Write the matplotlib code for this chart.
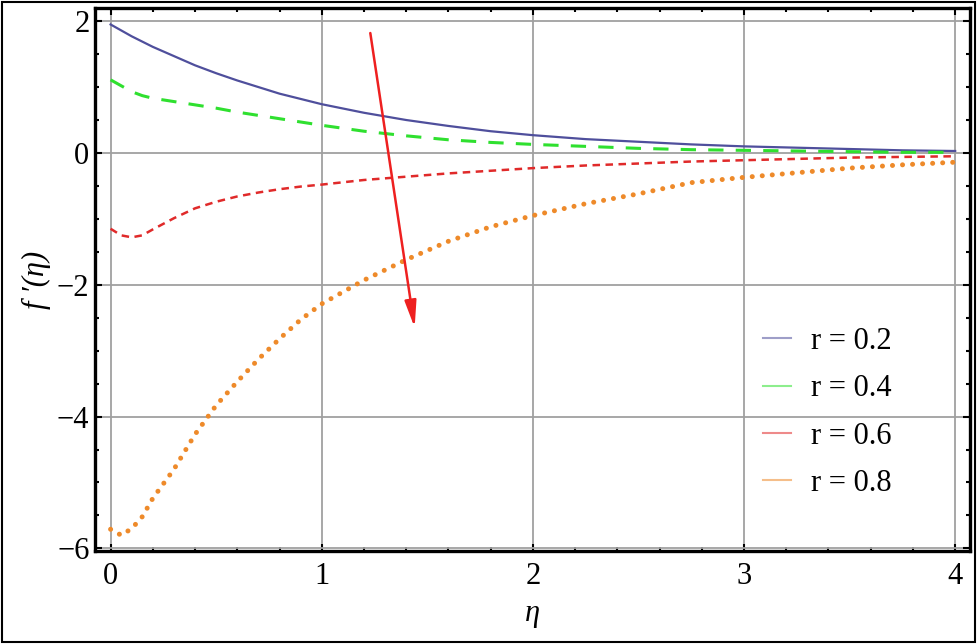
import matplotlib
matplotlib.use('Agg')
import matplotlib.pyplot as plt
from matplotlib.lines import Line2D
from matplotlib.patches import Rectangle
from matplotlib.ticker import MultipleLocator

# valeurs
eta = [0, 0.05, 0.1, 0.15, 0.2, 0.3, 0.4, 0.5, 0.6, 0.7, 0.8, 0.9, 1.0,
       1.2, 1.4, 1.6, 1.8, 2.0, 2.25, 2.5, 2.75, 3.0, 3.25, 3.5, 3.75, 4.0]
f_r02 = [1.95, 1.86, 1.77, 1.69, 1.61, 1.47, 1.33, 1.21, 1.10, 1.00, 0.90, 0.82, 0.74,
         0.61, 0.50, 0.41, 0.33, 0.27, 0.21, 0.17, 0.13, 0.10, 0.08, 0.06, 0.04, 0.03]
f_r04 = [1.11, 1.02, 0.93, 0.87, 0.83, 0.78, 0.73, 0.68, 0.62, 0.57, 0.52, 0.47, 0.42,
         0.33, 0.26, 0.20, 0.16, 0.13, 0.10, 0.07, 0.05, 0.04, 0.03, 0.02, 0.01, 0.01]
f_r06 = [-1.15, -1.25, -1.28, -1.25, -1.16, -0.99, -0.84, -0.74, -0.66, -0.60, -0.55, -0.51, -0.48,
         -0.41, -0.36, -0.31, -0.27, -0.23, -0.19, -0.16, -0.13, -0.11, -0.09, -0.07, -0.06, -0.05]
f_r08 = [-5.71, -5.80, -5.70, -5.52, -5.24, -4.80, -4.27, -3.83, -3.47, -3.13, -2.82, -2.53, -2.29,
         -1.93, -1.62, -1.34, -1.12, -0.95, -0.77, -0.62, -0.45, -0.37, -0.30, -0.23, -0.18, -0.14]
labels = ['r = 0.2', 'r = 0.4', 'r = 0.6', 'r = 0.8']
couleurs = ['#4f4f9c', '#2fe02f', '#e02a2a', '#ee8a2a']

plt.rcParams['font.family'] = ['Liberation Serif', 'DejaVu Serif']

fig = plt.figure(figsize=(9.77, 6.44), dpi=100)
ax = fig.add_axes([0.0972, 0.1444, 0.8956, 0.8432])

ax.plot(eta, f_r02, color=couleurs[0], lw=1.6)
ax.plot(eta, f_r04, color=couleurs[1], lw=2.2, dashes=(5, 4))
ax.plot(eta, f_r06, color=couleurs[2], lw=1.8, dashes=(3, 2.2))
ax.plot(eta, f_r08, color=couleurs[3], lw=3.6, dashes=(0.01, 2.0),
        dash_capstyle='round')

# fleche
ax.annotate('', xy=(1.44, -2.65), xytext=(1.23, 1.82),
            arrowprops=dict(arrowstyle='-|>,head_length=1.6,head_width=0.35',
                            color='#ee2020', lw=1.8, shrinkA=0, shrinkB=0))

ax.set_xlim(-0.074, 4.07)
ax.set_ylim(-6.04, 2.2)
ax.xaxis.set_major_locator(MultipleLocator(1))
ax.xaxis.set_minor_locator(MultipleLocator(0.2))
ax.yaxis.set_major_locator(MultipleLocator(2))
ax.yaxis.set_minor_locator(MultipleLocator(0.5))
ax.tick_params(which='both', direction='in', top=True, right=True, width=1.5)
ax.tick_params(which='major', length=5, labelsize=22)
ax.tick_params(which='minor', length=3)
ax.tick_params(axis='x', pad=8)
ax.tick_params(axis='y', pad=4)
for s in ax.spines.values():
    s.set_linewidth(2.4)
ax.grid(True, which='major', color='#a0a0a0', lw=1.3)

ax.set_xlabel('η', fontsize=22, fontstyle='italic', labelpad=6)
ax.set_ylabel('f ′(η)', fontsize=22, fontstyle='italic', labelpad=4)

poignees = [Line2D([], [], color=c, lw=1.5, alpha=0.55) for c in couleurs]
ax.legend(poignees, labels, loc='center left', bbox_to_anchor=(0.732, 0.255),
          frameon=False, fontsize=22, handlelength=0.92, labelspacing=0.6,
          handletextpad=0.65)

fig.patches.append(Rectangle((0.002, 0.003), 0.996, 0.994, transform=fig.transFigure,
                             fill=False, edgecolor='black', lw=1.5))

fig.savefig('out.png', dpi=100)
